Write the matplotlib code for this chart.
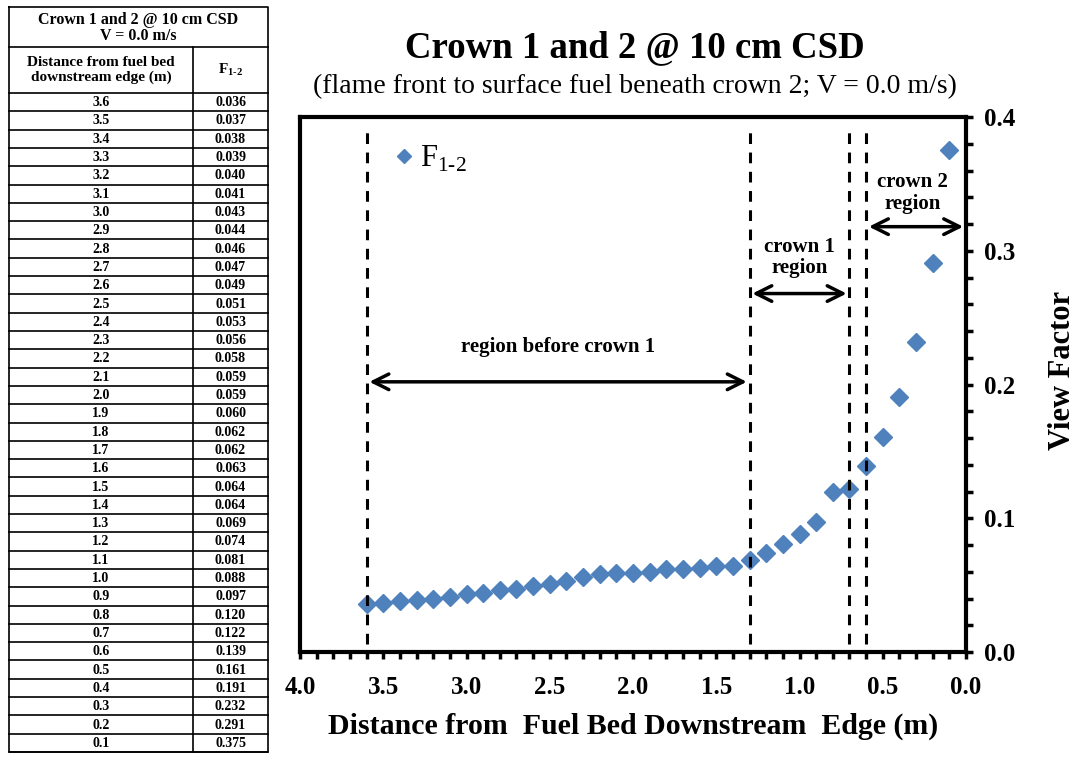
import numpy as np
import matplotlib
matplotlib.use("Agg")
import matplotlib.pyplot as plt
from matplotlib.ticker import MultipleLocator

# data (from the table in the reference)
dist = [3.6, 3.5, 3.4, 3.3, 3.2, 3.1, 3.0, 2.9, 2.8, 2.7, 2.6, 2.5,
        2.4, 2.3, 2.2, 2.1, 2.0, 1.9, 1.8, 1.7, 1.6, 1.5, 1.4, 1.3,
        1.2, 1.1, 1.0, 0.9, 0.8, 0.7, 0.6, 0.5, 0.4, 0.3, 0.2, 0.1]
f12 = [0.036, 0.037, 0.038, 0.039, 0.040, 0.041, 0.043, 0.044, 0.046,
       0.047, 0.049, 0.051, 0.053, 0.056, 0.058, 0.059, 0.059, 0.060,
       0.062, 0.062, 0.063, 0.064, 0.064, 0.069, 0.074, 0.081, 0.088,
       0.097, 0.120, 0.122, 0.139, 0.161, 0.191, 0.232, 0.291, 0.375]
region_edges = [3.6, 1.3, 0.7, 0.6]

plt.rcParams['font.family'] = ['Liberation Serif', 'DejaVu Serif']
plt.rcParams['mathtext.fontset'] = 'custom'
plt.rcParams['mathtext.rm'] = 'Liberation Serif'
plt.rcParams['mathtext.bf'] = 'Liberation Serif:bold'
blue = "#4F81BD"

W, H = 1076, 757
fig = plt.figure(figsize=(W / 100, H / 100), dpi=100)

# ---------- table (drawn in pixel coords) ----------
tab = fig.add_axes([0, 0, 1, 1])
tab.set_xlim(0, W)
tab.set_ylim(H, 0)
tab.axis("off")
xl, xm, xr = 9, 193, 268
top, r1, r2 = 7, 47, 93
rh = (752 - r2) / len(dist)
lw = 1.2
tab.plot([xl, xr, xr, xl, xl], [top, top, 752, 752, top], color="black", lw=lw)
tab.plot([xl, xr], [r1, r1], color="black", lw=lw)
tab.plot([xm, xm], [r1, 752], color="black", lw=lw)
for i in range(len(dist) + 1):
    y = r2 + i * rh
    tab.plot([xl, xr], [y, y], color="black", lw=lw)
tab.text((xl + xr) / 2, (top + r1) / 2 + 1, "Crown 1 and 2 @ 10 cm CSD\nV = 0.0 m/s",
         ha="center", va="center", fontsize=11.5, fontweight="bold", linespacing=1.0)
tab.text((xl + xm) / 2, (r1 + r2) / 2, "Distance from fuel bed\ndownstream edge (m)",
         ha="center", va="center", fontsize=11, fontweight="bold", linespacing=1.15)
tab.text((xm + xr) / 2, (r1 + r2) / 2, r"$\mathbf{F}_{\mathbf{1\text{-}2}}$",
         ha="center", va="center", fontsize=11)
for i, (d, v) in enumerate(zip(dist, f12)):
    y = r2 + (i + 0.5) * rh
    tab.text((xl + xm) / 2, y + 0.5, f"{d:.1f}", ha="center", va="center",
             fontsize=10, fontweight="bold")
    tab.text((xm + xr) / 2, y + 0.5, f"{v:.3f}", ha="center", va="center",
             fontsize=10, fontweight="bold")

# ---------- chart ----------
ax = fig.add_axes([300 / W, 1 - 652 / H, 666 / W, 535 / H])
ax.plot(dist, f12, linestyle="none", marker="D", markersize=9.5,
        color=blue, label=r"F$_{\rm 1\text{-}2}$")
ax.set_xlim(4.0, 0.0)
ax.set_ylim(0, 0.4)

for xe in region_edges:
    ax.plot([xe, xe], [0.006, 0.394], color="black", lw=2.2,
            linestyle=(0, (3.5, 2.8)))

arrow = dict(arrowstyle="<->", color="black", lw=2.5, mutation_scale=28)
ax.annotate("", xy=(1.3, 0.202), xytext=(3.6, 0.202), arrowprops=arrow)
ax.annotate("", xy=(0.7, 0.268), xytext=(1.3, 0.268), arrowprops=arrow)
ax.annotate("", xy=(0.0, 0.318), xytext=(0.6, 0.318), arrowprops=arrow)
ax.text(2.45, 0.228, "region before crown 1", ha="center", va="center",
        fontsize=15, fontweight="bold")
ax.text(1.0, 0.295, "crown 1\nregion", ha="center", va="center",
        fontsize=15, fontweight="bold", linespacing=1.1)
ax.text(0.32, 0.343, "crown 2\nregion", ha="center", va="center",
        fontsize=15, fontweight="bold", linespacing=1.1)

for s in ax.spines.values():
    s.set_linewidth(3)
ax.yaxis.tick_right()
ax.yaxis.set_label_position("right")
ax.xaxis.set_major_locator(MultipleLocator(0.5))
ax.xaxis.set_minor_locator(MultipleLocator(0.1))
ax.yaxis.set_major_locator(MultipleLocator(0.1))
ax.yaxis.set_minor_locator(MultipleLocator(0.02))
ax.xaxis.set_major_formatter(matplotlib.ticker.FormatStrFormatter("%.1f"))
ax.yaxis.set_major_formatter(matplotlib.ticker.FormatStrFormatter("%.1f"))
ax.tick_params(which="both", direction="out", width=2.5, length=5)
ax.tick_params(axis="x", labelsize=18, pad=12)
ax.tick_params(axis="y", labelsize=18, pad=8)
for lab in ax.get_xticklabels() + ax.get_yticklabels():
    lab.set_fontweight("bold")

ax.set_xlabel("Distance from  Fuel Bed Downstream  Edge (m)", fontsize=21.5,
              fontweight="bold", labelpad=10)
ax.set_ylabel("View Factor", fontsize=22, fontweight="bold")
ax.yaxis.set_label_coords(1.123, 0.527)

leg = ax.legend(loc="upper left", bbox_to_anchor=(0.097, 0.99), frameon=False,
                fontsize=22, handletextpad=-0.1, borderpad=0.2, handlelength=1.2,
                markerscale=0.8)

fig.text(635 / W, 1 - 48 / H, "Crown 1 and 2 @ 10 cm CSD", ha="center", va="center",
         fontsize=26.5, fontweight="bold")
fig.text(635 / W, 1 - 87 / H,
         "(flame front to surface fuel beneath crown 2; V = 0.0 m/s)",
         ha="center", va="center", fontsize=20)

fig.savefig("out.png", dpi=100)
